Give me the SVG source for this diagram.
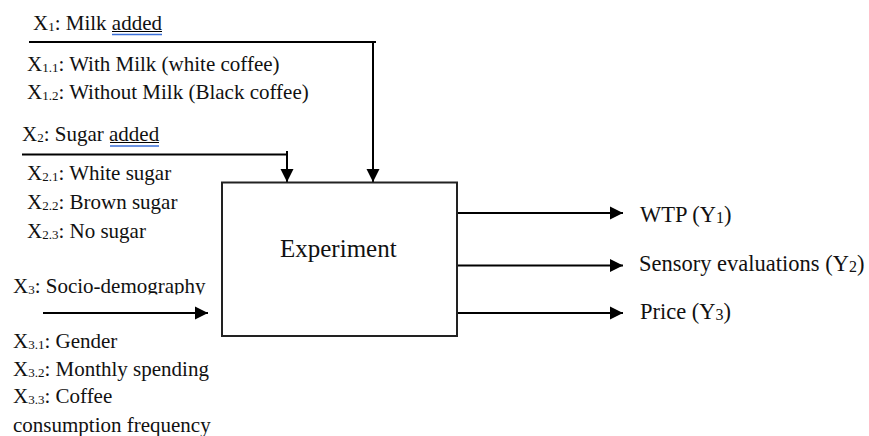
<svg xmlns="http://www.w3.org/2000/svg" width="869" height="436" viewBox="0 0 869 436" font-family="'Liberation Serif', Tinos, 'DejaVu Serif', serif">
<style>
text{font-family:'Liberation Serif', Tinos, 'DejaVu Serif', serif;fill:#111}
.t{font-size:21px}
.o{font-size:22.5px}
.e{font-size:25px}
.c{stroke:#000;stroke-width:2;fill:none}
.ul{stroke:#000;stroke-width:1}
.bl{stroke:#3a6fd8;stroke-width:1.3}
</style>
<defs>
<marker id="ah" markerUnits="userSpaceOnUse" markerWidth="14" markerHeight="14" viewBox="0 0 14 14" refX="13" refY="7" orient="auto">
<path d="M0,0.5 L13,7 L0,13.5 Z" fill="#000"/>
</marker>
<clipPath id="clip3"><rect x="0" y="270" width="220" height="24.5"/></clipPath>
</defs>
<g id="connectors">
<polyline class="c" points="29,42 373,42 373,182" marker-end="url(#ah)"/>
<line class="c" x1="373" y1="42" x2="376" y2="42"/>
<polyline class="c" points="22,154.5 287,154.5 287,182" marker-end="url(#ah)"/>
<line class="c" x1="287" y1="151" x2="287" y2="156"/>
<line class="c" x1="43" y1="313" x2="208" y2="313" marker-end="url(#ah)"/>
<line class="c" x1="457" y1="213" x2="623" y2="213" marker-end="url(#ah)"/>
<line class="c" x1="457" y1="265.5" x2="623" y2="265.5" marker-end="url(#ah)"/>
<line class="c" x1="457" y1="313" x2="623" y2="313" marker-end="url(#ah)"/>
</g>
<g id="experiment">
<rect x="222" y="182.5" width="235" height="153.5" fill="#fff" stroke="#222" stroke-width="2"/>
<text class="e" x="280" y="257">Experiment</text>
</g>
<g id="x1">
<text class="t" x="33" y="30">X<tspan font-size="13" dy="1">1</tspan><tspan dy="-1">: Milk added</tspan></text>
<line class="ul" x1="112" y1="31.5" x2="162" y2="31.5"/>
<line class="bl" x1="112" y1="34.5" x2="162" y2="34.5"/>
<text class="t" x="27" y="71">X<tspan font-size="13" dy="1">1.1</tspan><tspan dy="-1">: With Milk (white coffee)</tspan></text>
<text class="t" x="27" y="99">X<tspan font-size="13" dy="1">1.2</tspan><tspan dy="-1">: Without Milk (Black coffee)</tspan></text>
</g>
<g id="x2">
<text class="t" x="22" y="141">X<tspan font-size="13" dy="1">2</tspan><tspan dy="-1">: Sugar added</tspan></text>
<line class="ul" x1="110" y1="142.5" x2="159" y2="142.5"/>
<line class="bl" x1="110" y1="146" x2="159" y2="146"/>
<text class="t" x="27" y="180">X<tspan font-size="13" dy="1">2.1</tspan><tspan dy="-1">: White sugar</tspan></text>
<text class="t" x="27" y="209">X<tspan font-size="13" dy="1">2.2</tspan><tspan dy="-1">: Brown sugar</tspan></text>
<text class="t" x="27" y="238">X<tspan font-size="13" dy="1">2.3</tspan><tspan dy="-1">: No sugar</tspan></text>
</g>
<g id="x3">
<text class="t" x="13" y="293" clip-path="url(#clip3)">X<tspan font-size="13" dy="1">3</tspan><tspan dy="-1">: Socio-demography</tspan></text>
<text class="t" x="13" y="348">X<tspan font-size="13" dy="1">3.1</tspan><tspan dy="-1">: Gender</tspan></text>
<text class="t" x="13" y="376">X<tspan font-size="13" dy="1">3.2</tspan><tspan dy="-1">: Monthly spending</tspan></text>
<text class="t" x="13" y="403">X<tspan font-size="13" dy="1">3.3</tspan><tspan dy="-1">: Coffee</tspan></text>
<text class="t" x="13" y="432">consumption frequency</text>
</g>
<g id="y1"><text class="o" x="640" y="222">WTP (Y<tspan font-size="16" dy="1">1</tspan><tspan dy="-1">)</tspan></text></g>
<g id="y2"><text class="o" x="639" y="271">Sensory evaluations (Y<tspan font-size="16" dy="1">2</tspan><tspan dy="-1">)</tspan></text></g>
<g id="y3"><text class="o" x="640" y="319">Price (Y<tspan font-size="16" dy="1">3</tspan><tspan dy="-1">)</tspan></text></g>
</svg>
